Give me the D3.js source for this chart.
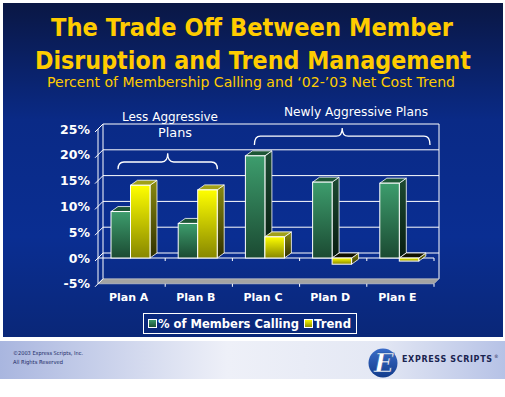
<!DOCTYPE html>
<html>
<head>
<meta charset="utf-8">
<script src="https://cdn.jsdelivr.net/npm/d3@7"></script>
<style>
  body { margin: 0; background: #fff; }
  svg { display: block; }
</style>
</head>
<body>
<svg id="canvas"></svg>
<script>
const width = 505;
const height = 397;

// data
const plans = ["Plan A", "Plan B", "Plan C", "Plan D", "Plan E"];
const series = ["% of Members Calling", "Trend"];
const membersCalling = [9, 6.7, 19.8, 14.7, 14.5];
const trend = [14.1, 13.2, 4.1, -1.2, -0.6];
const yTicks = [-5, 0, 5, 10, 15, 20, 25];
const groups = [
  { label: ["Less Aggressive", "Plans"], from: "Plan A", to: "Plan B" },
  { label: ["Newly Aggressive Plans"], from: "Plan C", to: "Plan E" }
];

const svg = d3.select("#canvas")
  .attr("width", width)
  .attr("height", height);

const defs = svg.append("defs");

function linGrad(id, stops, x2, y2) {
  const g = defs.append("linearGradient").attr("id", id)
    .attr("x1", 0).attr("y1", 0).attr("x2", x2).attr("y2", y2);
  stops.forEach(s => g.append("stop").attr("offset", s[0]).attr("stop-color", s[1]));
}

linGrad("bg", [[0, "#0a1744"], [0.35, "#0a2a86"], [0.7, "#0a2e92"], [1, "#0a2778"]], 0, 1);
linGrad("footer", [[0, "#a9b6df"], [0.45, "#eef0f8"], [0.75, "#e4e8f4"], [1, "#b6c2e6"]], 1, 0);
linGrad("gFront", [[0, "#3d9d6d"], [1, "#1b4a32"]], 0, 1);
linGrad("gSide", [[0, "#1c4a32"], [1, "#081c10"]], 0, 1);
linGrad("yFront", [[0, "#ffff00"], [1, "#878700"]], 0, 1);
linGrad("ySide", [[0, "#8a8a10"], [1, "#2e2e00"]], 0, 1);
linGrad("logo", [[0, "#3a6cc8"], [1, "#123c8c"]], 0, 1);

const fills = {
  front: ["url(#gFront)", "url(#yFront)"],
  side: ["url(#gSide)", "url(#ySide)"],
  top: ["#1d5636", "#a0a018"]
};

// background panel and footer
svg.append("rect").attr("x", 3).attr("y", 3).attr("width", 500).attr("height", 334)
  .attr("fill", "url(#bg)");
svg.append("rect").attr("x", 0).attr("y", 341).attr("width", width).attr("height", 38)
  .attr("fill", "url(#footer)");

// titles
const title = svg.append("g").attr("font-family", "DejaVu Sans, Verdana, sans-serif")
  .attr("fill", "#ffcc00").attr("text-anchor", "middle");
title.append("text").attr("x", 252).attr("y", 36).attr("font-size", 24).attr("font-weight", "bold")
  .attr("textLength", 402).attr("lengthAdjust", "spacingAndGlyphs")
  .text("The Trade Off Between Member");
title.append("text").attr("x", 253).attr("y", 69).attr("font-size", 24).attr("font-weight", "bold")
  .attr("textLength", 436).attr("lengthAdjust", "spacingAndGlyphs")
  .text("Disruption and Trend Management");
title.append("text").attr("x", 251).attr("y", 87).attr("font-size", 13.5)
  .attr("textLength", 408).attr("lengthAdjust", "spacingAndGlyphs")
  .text("Percent of Membership Calling and \u201802-\u201903 Net Cost Trend");

// scales
const x = d3.scaleBand().domain(plans).range([98, 434]);
const xs = d3.scaleBand().domain(series).range([0, 39]);
const y = d3.scaleLinear().domain([-5, 25]).range([283.8, 129]);
const wall = { dx: 5, dy: -5 };
const bar = { dx: 7, dy: -5, off: 13 };

const chart = svg.append("g");
const x0 = x.range()[0], x1 = x.range()[1];

// floor
chart.append("path")
  .attr("d", `M${x0},${y(-5)}L${x1},${y(-5)}L${x1 + wall.dx},${y(-5) + wall.dy}L${x0 + wall.dx},${y(-5) + wall.dy}Z`)
  .attr("fill", "#a3a3a3").attr("stroke", "#d8d8d8").attr("stroke-width", 0.6);

// back wall gridlines
const lineStyle = sel => sel.attr("stroke", "#fff").attr("stroke-width", 1).attr("fill", "none");
chart.selectAll(".grid").data(yTicks.filter(t => t >= 0)).enter().append("line")
  .attr("x1", x0 + wall.dx).attr("x2", x1 + wall.dx)
  .attr("y1", d => y(d) + wall.dy).attr("y2", d => y(d) + wall.dy)
  .call(lineStyle);
chart.selectAll(".conn").data(yTicks).enter().append("line")
  .attr("x1", x0 - 3).attr("x2", x0 + wall.dx)
  .attr("y1", d => y(d) + 3).attr("y2", d => y(d) + wall.dy)
  .call(lineStyle);
chart.append("line").attr("x1", x0 + wall.dx).attr("x2", x0 + wall.dx)
  .attr("y1", y(25) + wall.dy).attr("y2", y(-5) + wall.dy).call(lineStyle);
chart.append("line").attr("x1", x1 + wall.dx).attr("x2", x1 + wall.dx)
  .attr("y1", y(25) + wall.dy).attr("y2", y(-5) + wall.dy).call(lineStyle);
chart.append("line").attr("x1", x0).attr("x2", x0)
  .attr("y1", y(25)).attr("y2", y(-5)).call(lineStyle);

// zero line (front) with category ticks
chart.append("line").attr("x1", x0).attr("x2", x1).attr("y1", y(0)).attr("y2", y(0)).call(lineStyle);
const bounds = plans.map(p => x(p)).concat([x1]).slice(1);
chart.selectAll(".tick0").data(bounds).enter().append("line")
  .attr("x1", d => d).attr("x2", d => d).attr("y1", y(0)).attr("y2", y(0) + 3).call(lineStyle);
chart.selectAll(".tickF").data(bounds).enter().append("line")
  .attr("x1", d => d).attr("x2", d => d).attr("y1", y(-5)).attr("y2", y(-5) + 3).call(lineStyle);

// y axis labels
chart.selectAll(".ylab").data(yTicks).enter().append("text")
  .attr("x", 90).attr("y", d => y(d)).attr("dy", "0.36em")
  .attr("text-anchor", "end").attr("fill", "#fff")
  .attr("font-family", "DejaVu Sans, Verdana, sans-serif").attr("font-weight", "bold")
  .attr("font-size", 12.5)
  .text(d => d + "%");

// x axis labels
chart.selectAll(".xlab").data(plans).enter().append("text")
  .attr("x", d => x(d) + x.bandwidth() / 2 - 3).attr("y", 301)
  .attr("text-anchor", "middle").attr("fill", "#fff")
  .attr("font-family", "DejaVu Sans, Verdana, sans-serif").attr("font-weight", "bold")
  .attr("font-size", 11)
  .text(d => d);

// bars
const barData = [];
plans.forEach((p, i) => {
  [membersCalling[i], trend[i]].forEach((v, s) => barData.push({ plan: p, s, v }));
});
const bars = chart.selectAll(".bar").data(barData).enter().append("g");
bars.each(function(d) {
  const g = d3.select(this);
  const bx0 = x(d.plan) + bar.off + xs(series[d.s]);
  const bx1 = bx0 + xs.bandwidth();
  const yt = y(Math.max(d.v, 0));
  const yb = y(Math.min(d.v, 0));
  const dx = bar.dx, dy = bar.dy;
  g.append("path")
    .attr("d", `M${bx1},${yt}L${bx1 + dx},${yt + dy}L${bx1 + dx},${yb + dy}L${bx1},${yb}Z`)
    .attr("fill", fills.side[d.s]).attr("stroke", "#fff").attr("stroke-width", 0.8);
  g.append("path")
    .attr("d", `M${bx0},${yt}L${bx0 + dx},${yt + dy}L${bx1 + dx},${yt + dy}L${bx1},${yt}Z`)
    .attr("fill", d.v < 0 ? "#111100" : fills.top[d.s]).attr("stroke", "#fff").attr("stroke-width", 0.8);
  g.append("rect")
    .attr("x", bx0).attr("y", yt).attr("width", xs.bandwidth()).attr("height", yb - yt)
    .attr("fill", fills.front[d.s]).attr("stroke", "#fff").attr("stroke-width", 1);
});

// group braces and labels
function brace(xa, xb, yEnd, yMid, yTop) {
  const xm = (xa + xb) / 2, r = 6;
  return `M${xa},${yEnd}Q${xa},${yMid} ${xa + r},${yMid}L${xm - r},${yMid}` +
    `Q${xm},${yMid} ${xm},${yTop}Q${xm},${yMid} ${xm + r},${yMid}` +
    `L${xb - r},${yMid}Q${xb},${yMid} ${xb},${yEnd}`;
}
const ann = chart.append("g").attr("fill", "#fff")
  .attr("font-family", "DejaVu Sans, Verdana, sans-serif").attr("text-anchor", "middle");
// left group
ann.append("path")
  .attr("d", brace(x(groups[0].from) + 20, x(groups[0].to) + x.bandwidth() - 15, y(17.2), y(18.6), y(20.3)))
  .attr("fill", "none").attr("stroke", "#fff").attr("stroke-width", 1.3);
ann.append("text").attr("x", 170).attr("y", 121).attr("font-size", 12.5)
  .attr("textLength", 96).attr("lengthAdjust", "spacingAndGlyphs").text(groups[0].label[0]);
ann.append("text").attr("x", 175).attr("y", 137).attr("font-size", 12.5)
  .attr("textLength", 34).attr("lengthAdjust", "spacingAndGlyphs").text(groups[0].label[1]);
// right group
ann.append("path")
  .attr("d", brace(x(groups[1].from) + 22, x(groups[1].to) + x.bandwidth() - 4, y(21.9), y(23.6), y(25.2)))
  .attr("fill", "none").attr("stroke", "#fff").attr("stroke-width", 1.3);
ann.append("text").attr("x", 356).attr("y", 116).attr("font-size", 12.5)
  .attr("textLength", 144).attr("lengthAdjust", "spacingAndGlyphs").text(groups[1].label[0]);

// legend
const legend = svg.append("g").attr("font-family", "DejaVu Sans, Verdana, sans-serif")
  .attr("font-weight", "bold").attr("font-size", 11.5).attr("fill", "#fff");
legend.append("rect").attr("x", 143.5).attr("y", 313.5).attr("width", 213).attr("height", 20)
  .attr("fill", "none").attr("stroke", "#fff").attr("stroke-width", 1);
const legX = [148, 304];
const legW = [141, 37];
series.forEach((s, i) => {
  legend.append("rect").attr("x", legX[i] + 0.5).attr("y", 319.5).attr("width", 8).attr("height", 8)
    .attr("fill", fills.front[i]).attr("stroke", "#fff").attr("stroke-width", 1);
  legend.append("text").attr("x", legX[i] + 10).attr("y", 328)
    .attr("textLength", legW[i]).attr("lengthAdjust", "spacingAndGlyphs").text(s);
});

// footer
const foot = svg.append("g").attr("font-family", "DejaVu Sans, Verdana, sans-serif").attr("fill", "#1c2a66");
foot.append("text").attr("x", 13).attr("y", 355).attr("font-size", 5.5)
  .attr("textLength", 70).attr("lengthAdjust", "spacingAndGlyphs").text("\u00a92003 Express Scripts, Inc.");
foot.append("text").attr("x", 13).attr("y", 364).attr("font-size", 5.5)
  .attr("textLength", 50).attr("lengthAdjust", "spacingAndGlyphs").text("All Rights Reserved");

const logo = svg.append("g").attr("transform", "translate(383,363)");
logo.append("circle").attr("r", 14.5).attr("fill", "url(#logo)");
logo.append("text").attr("x", 1).attr("y", 9).attr("text-anchor", "middle")
  .attr("font-family", "DejaVu Serif, serif").attr("font-style", "italic").attr("font-weight", "bold")
  .attr("font-size", 26).attr("fill", "#fff").attr("stroke", "#1a4a9c").attr("stroke-width", 0.6).text("E");
foot.append("text").attr("x", 402).attr("y", 362).attr("font-size", 8).attr("font-weight", "bold")
  .attr("fill", "#1a2450").attr("textLength", 90).attr("lengthAdjust", "spacing").text("EXPRESS SCRIPTS");
foot.append("text").attr("x", 494).attr("y", 358).attr("font-size", 4.5).attr("fill", "#1a2450").text("\u00ae");
</script>
</body>
</html>
